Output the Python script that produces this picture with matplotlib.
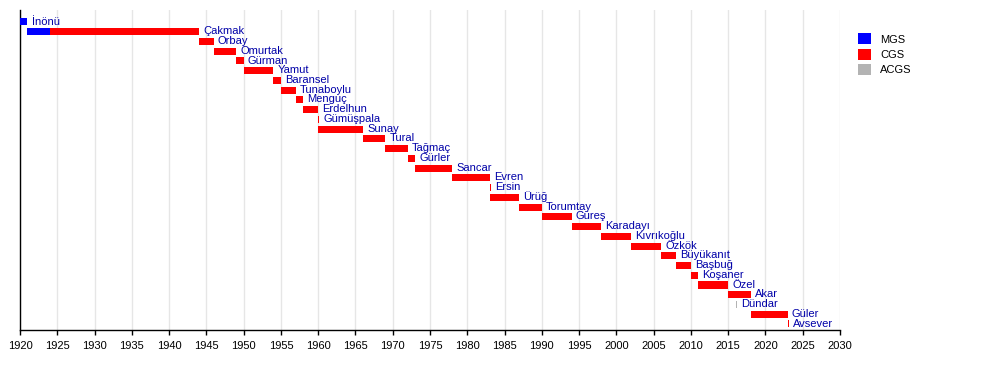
import matplotlib.pyplot as plt
from matplotlib.patches import Patch

plt.rcParams['font.family'] = ['Liberation Sans', 'DejaVu Sans']

# one row per officer, top to bottom
names = ['İnönü', 'Çakmak', 'Orbay', 'Omurtak', 'Gürman', 'Yamut', 'Baransel',
         'Tunaboylu', 'Menguç', 'Erdelhun', 'Gümüşpala', 'Sunay', 'Tural',
         'Tağmaç', 'Gürler', 'Sancar', 'Evren', 'Ersin', 'Ürüğ', 'Torumtay',
         'Güreş', 'Karadayı', 'Kıvrıkoğlu', 'Özkök', 'Büyükanıt', 'Başbuğ',
         'Koşaner', 'Özel', 'Akar', 'Dündar', 'Güler', 'Avsever']

# bar segments (row index, start year, end year, role)
seg_row = [0, 1, 1, 2, 3, 4, 5, 6, 7, 8, 9, 10, 11, 12, 13, 14, 15, 16, 17,
           18, 19, 20, 21, 22, 23, 24, 25, 26, 27, 28, 29, 30, 31]
seg_start = [1920, 1921, 1924, 1944, 1946, 1949, 1950, 1954, 1955, 1957, 1958,
             1960, 1960, 1966, 1969, 1972, 1973, 1978, 1983, 1983, 1987, 1990,
             1994, 1998, 2002, 2006, 2008, 2010, 2011, 2015, 2016, 2018, 2023]
seg_end = [1921, 1924, 1944, 1946, 1949, 1950, 1954, 1955, 1957, 1958, 1960,
           1960.15, 1966, 1969, 1972, 1973, 1978, 1983, 1983.15, 1987, 1990,
           1994, 1998, 2002, 2006, 2008, 2010, 2011, 2015, 2018, 2016.15, 2023,
           2023.15]
seg_role = ['MGS', 'MGS'] + ['CGS'] * 28 + ['ACGS', 'CGS', 'CGS']

roles = ['MGS', 'CGS', 'ACGS']
role_colors = {'MGS': '#0000ff', 'CGS': '#ff0000', 'ACGS': '#b3b3b3'}
label_color = '#0000a8'

fig = plt.figure(figsize=(10, 3.8), dpi=100)
ax = fig.add_axes([0.02, 1 - 330 / 380, 0.82, 320 / 380])

for r, s, e, role in zip(seg_row, seg_start, seg_end, seg_role):
    ax.barh(r, e - s, left=s, height=0.72, color=role_colors[role], linewidth=0, zorder=3)

# name goes right after the last segment of its row
for i, name in enumerate(names):
    end = max(e for r, e in zip(seg_row, seg_end) if r == i)
    ax.annotate(name, (end, i), xytext=(3, 0.3), textcoords='offset points',
                va='center', ha='left', fontsize=8, color=label_color, zorder=4)

ax.set_xlim(1920, 2030)
ax.set_ylim(31.62, -1.23)
ax.set_xticks(range(1920, 2031, 5))
ax.set_yticks([])
ax.tick_params(axis='x', direction='out', length=3.6, width=1, labelsize=8, pad=4)
ax.grid(axis='x', color='#e6e6e6', linewidth=1, zorder=0)
for side in ['top', 'right']:
    ax.spines[side].set_visible(False)
for side in ['left', 'bottom']:
    ax.spines[side].set_color('black')
    ax.spines[side].set_linewidth(1)

handles = [Patch(facecolor=role_colors[r], edgecolor='none', label=r) for r in roles]
fig.legend(handles=handles, loc='upper left', bbox_to_anchor=(0.854, 0.924),
           frameon=False, fontsize=8, handlelength=1.17, handleheight=1.17,
           labelspacing=0.36, handletextpad=0.8, borderaxespad=0)

fig.savefig('out.png')
